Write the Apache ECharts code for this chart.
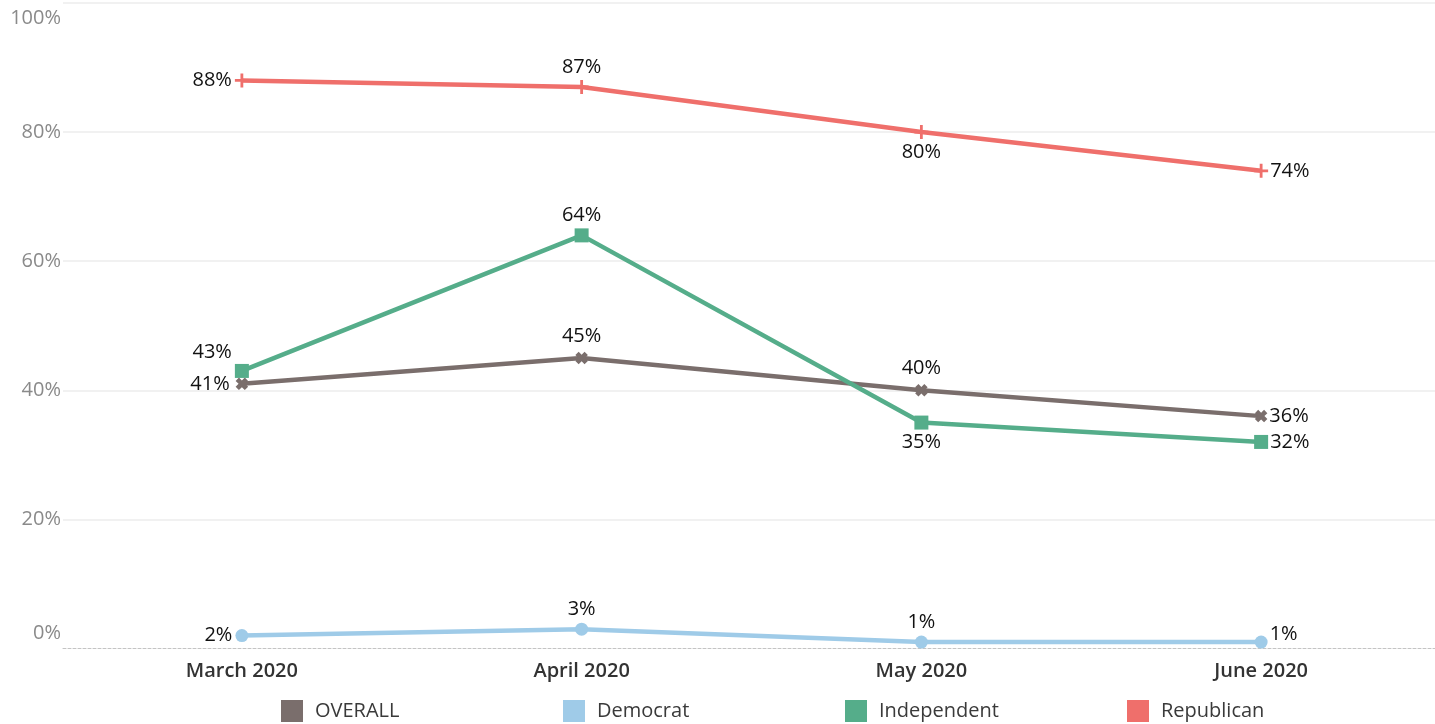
<!DOCTYPE html>
<html>
<head>
<meta charset="utf-8">
<script src="https://cdn.jsdelivr.net/npm/echarts@6/dist/echarts.min.js"></script>
<style>
  html, body { margin: 0; padding: 0; background: #fff; }
  #chart { width: 1435px; height: 724px; }
</style>
</head>
<body>
<div id="chart"></div>
<script>
// Survey share by party, March–June 2020
const categories = ['March 2020', 'April 2020', 'May 2020', 'June 2020'];
const seriesNames = ['OVERALL', 'Democrat', 'Independent', 'Republican'];
const overall = [41, 45, 40, 36];
const democrat = [2, 3, 1, 1];
const independent = [43, 64, 35, 32];
const republican = [88, 87, 80, 74];
const yMin = 0, yMax = 100, yStep = 20;

const colors = {
  OVERALL: '#7a6e6c',
  Democrat: '#9fcbe8',
  Independent: '#55ad8a',
  Republican: '#ef6f6b'
};

const FONT = '"Open Sans", "Noto Sans", sans-serif';

// label placement helpers
const L = { position: 'left', distance: 3 };
const T = { position: 'top', distance: 3 };
const B = { position: 'bottom', distance: 3 };
const R = { position: 'right', distance: 2 };

const plusPath = 'path://M4,0H6V4H10V6H6V10H4V6H0V4H4Z';
const crossPath = 'path://M3.2,0H6.8V3.2H10V6.8H6.8V10H3.2V6.8H0V3.2H3.2Z';

function points(values, places) {
  return values.map((v, i) => ({ value: v, label: places[i] }));
}

function lineSeries(name, values, places, symbol, size, extra) {
  return Object.assign({
    name: name,
    type: 'line',
    xAxisIndex: 1,
    yAxisIndex: 1,
    data: points(values, places),
    symbol: symbol,
    symbolSize: size,
    showAllSymbol: true,
    lineStyle: { color: colors[name], width: 4.5 },
    itemStyle: { color: colors[name] },
    label: {
      show: true,
      color: '#111',
      fontFamily: FONT,
      fontSize: 20,
      formatter: p => Math.round(p.value) + '%'
    },
    emphasis: { disabled: true },
    z: 3
  }, extra || {});
}

// one legend block per series, evenly spaced along the bottom
const legendLefts = [281, 563, 845, 1127];
const legends = seriesNames.map((n, i) => ({
  left: legendLefts[i],
  top: 700,
  padding: 0,
  itemWidth: 22,
  itemHeight: 22,
  selectedMode: false,
  data: [{ name: n, icon: 'rect', itemStyle: { color: colors[n] } }],
  textStyle: { color: '#3a3a3a', fontFamily: FONT, fontSize: 20, padding: [0, 0, 0, 7] }
}));

const chart = echarts.init(document.getElementById('chart'), null, { renderer: 'canvas' });

chart.setOption({
  animation: false,
  backgroundColor: '#ffffff',
  grid: [
    // full-width pane: y ticks, gridlines and dashed baseline
    { left: 63, right: 0, top: 3, bottom: 75.5 },
    // plotting pane for the monthly series
    { left: 72, right: 4, top: 3, bottom: 75.5 }
  ],
  xAxis: [
    {
      type: 'value', gridIndex: 0, min: 0, max: 1,
      axisLine: { show: true, onZero: false, lineStyle: { color: '#c4c4c4', type: [3, 2], width: 1 } },
      axisTick: { show: false }, axisLabel: { show: false }, splitLine: { show: false }
    },
    {
      type: 'category', gridIndex: 1, data: categories, boundaryGap: true,
      axisLine: { show: false }, axisTick: { show: false },
      axisLabel: {
        color: '#333', fontFamily: FONT, fontSize: 20, fontWeight: 600, margin: 13
      }
    }
  ],
  yAxis: [
    {
      type: 'value', gridIndex: 0, min: yMin, max: yMax, interval: yStep,
      axisLine: { show: false }, axisTick: { show: false },
      axisLabel: {
        color: '#8a8a8a', fontFamily: FONT, fontSize: 20, margin: 2,
        lineHeight: 30,
        verticalAlignMinLabel: 'bottom',
        verticalAlignMaxLabel: 'top',
        formatter: v => v + '%'
      },
      splitLine: { show: true, showMinLine: false, lineStyle: { color: '#ededed', width: 1.5 } }
    },
    {
      type: 'value', gridIndex: 1, min: yMin, max: yMax, interval: yStep,
      show: false, splitLine: { show: false }
    }
  ],
  legend: legends,
  series: [
    lineSeries('Democrat', democrat,
      [L, T, T, Object.assign({}, R, { offset: [0, -8] })], 'circle', 13),
    lineSeries('OVERALL', overall,
      [L, T, T, Object.assign({}, R, { distance: -1 })], crossPath, 13, { symbolRotate: 45 }),
    lineSeries('Independent', independent,
      [Object.assign({}, L, { offset: [0, -19] }), T, B, R], 'rect', 14),
    lineSeries('Republican', republican, [L, T, B, R], plusPath, 14)
  ]
});
</script>
</body>
</html>
